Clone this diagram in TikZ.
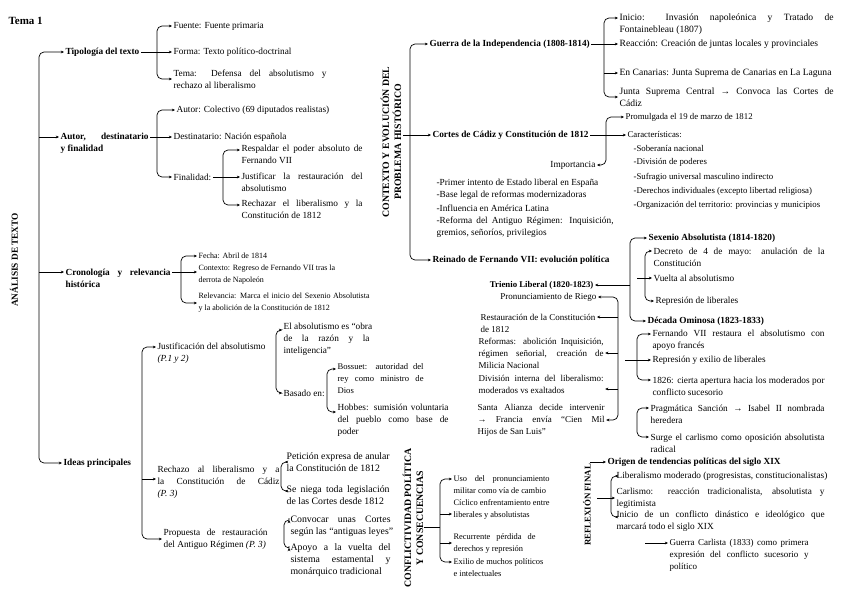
\documentclass[tikz,border=0pt]{standalone}
\usepackage{fontspec}
\setmainfont{Liberation Serif}
\usetikzlibrary{arrows.meta,calc}
\newcommand\fz[1]{\fontsize{#1}{12}\selectfont}
\newcommand\jl[2]{\setbox0\hbox{#2}\ifdim\wd0>#1pt\box0\else\makebox[#1pt][s]{#2}\fi}
\tikzset{
  txt/.style={inner xsep=1.6pt, inner ysep=0.5pt, outer sep=0pt, align=left, anchor=west, font=\fz{9.3}},
  bld/.style={txt, font=\fz{9.3}\bfseries},
  rot/.style={bld, rotate=90, anchor=center, align=center},
  sA/.style={txt, font=\fz{8.0}},
  sB/.style={txt, font=\fz{8.8}},
  sC/.style={txt, font=\fz{9.0}},
  sD/.style={txt, font=\fz{9.6}},
  sE/.style={txt, font=\fz{8.4}},
  sF/.style={txt, font=\fz{9.8}},
  arr/.style={-{Stealth[length=3.2pt,width=2.8pt]}, line width=0.7pt},
  barr/.style={{Stealth[length=3.2pt,width=2.8pt]}-{Stealth[length=3.2pt,width=2.8pt]}, line width=0.7pt, rounded corners=5pt},
  ln/.style={line width=0.7pt},
}
\begin{document}
\begin{tikzpicture}[x=1pt,y=-1pt]
\useasboundingbox[fill=white] (0,0) rectangle (848,600);

% ---------------- LEFT: ANALISIS DE TEXTO ----------------
\node[bld, font=\fontsize{11}{13}\selectfont\bfseries] (tema1) at (7,21) {Tema 1};
\node[rot, font=\fz{9.3}\bfseries] (analisis) at (14,260) {ANÁLISIS DE TEXTO};

\node[bld] (tipo) at (64,52) {Tipología del texto};
\node[bld] (autor) at (59,143) {\jl{88}{Autor, destinatario}\\y finalidad};
\node[bld] (crono) at (64,278) {\jl{105}{Cronología y relevancia}\\histórica};
\node[bld] (ideas) at (62,463) {Ideas principales};

\draw[barr] (tipo.west) -| (39,250) |- (ideas.west);
\coordinate (autorA) at ([yshift=6pt]autor.west);
\coordinate (cronoB) at ([yshift=6pt]crono.west);
\draw[arr] (autorA -| 39,0) -- (autorA);
\draw[arr] (cronoB -| 39,0) -- (cronoB);

% Tipologia
\node[txt] (fuente) at (172,26) {Fuente: Fuente primaria};
\node[txt] (forma) at (172,52) {Forma: Texto político-doctrinal};
\node[txt] (tema) at (172,79) {\jl{153}{Tema: Defensa del absolutismo y}\\rechazo al liberalismo};
\draw[arr] (tipo.east) -- (tipo.east -| forma.west);
\draw[barr] (fuente.west) -| (157,52) |- (tema.west);

% Autor
\node[txt] (autorc) at (175,110) {Autor: Colectivo (69 diputados realistas)};
\node[txt] (dest) at (172,137) {Destinatario: Nación española};
\node[txt] (fin) at (172,177) {Finalidad:};
\draw[arr] (autor.east |- dest.west) -- (dest.west);
\draw[barr] (autorc.west) -| (157,140) |- (fin.west);

\node[txt] (resp) at (240,154) {\jl{121}{Respaldar el poder absoluto de}\\Fernando VII};
\node[txt] (just) at (240,182) {\jl{121}{Justificar la restauración del}\\absolutismo};
\node[txt] (rech) at (240,209) {\jl{121}{Rechazar el liberalismo y la}\\Constitución de 1812};
\draw[arr] (fin.east) -- (fin.east -| just.west);
\draw[barr] ([yshift=4pt]resp.west) -| (223,180) |- ([yshift=4pt]rech.west);

% Cronologia
\node[sA] (fecha) at (197,256) {Fecha: Abril de 1814};
\node[sA] (contexto) at (197,275) {\jl{133}{Contexto: Regreso de Fernando VII tras la}\\derrota de Napoleón};
\node[sA] (relev) at (197,303) {\jl{171}{Relevancia: Marca el inicio del Sexenio Absolutista}\\y la abolición de la Constitución de 1812};
\coordinate (cronoA) at ([yshift=6pt]crono.east);
\draw[arr] (cronoA) -- (cronoA -| contexto.west);
\draw[barr] (fecha.west) -| (181,280) |- (relev.west);

% Ideas principales
\node[txt] (justif) at (156,353) {Justificación del absolutismo\\\textit{(P.1 y 2)}};
\node[txt] (rechazo) at (156,482) {\jl{122}{Rechazo al liberalismo y a}\\\jl{122}{la Constitución de Cádiz}\\\textit{(P. 3)}};
\node[txt] (prop) at (162,539) {\jl{104}{Propuesta de restauración}\\del Antiguo Régimen \textit{(P. 3)}};
\draw[barr] ([yshift=6pt]justif.west) -| (142,450) |- (prop.west);
\draw[arr] ([yshift=3pt]rechazo.west -| 142,0) -- ([yshift=3pt]rechazo.west);

\node[txt] (elabs) at (282,339) {\jl{86}{El absolutismo es “obra}\\\jl{86}{de la razón y la}\\inteligencia”};
\node[txt] (basado) at (282,393) {Basado en:};
\draw[barr] ([yshift=9pt]elabs.west) -| (276,360) |- (basado.west);

\node[txt, font=\fz{8.6}] (bossuet) at (336,379) {\jl{86}{Bossuet: autoridad del}\\\jl{86}{rey como ministro de}\\Dios};
\node[txt] (hobbes) at (336,420) {\jl{111}{Hobbes: sumisión voluntaria}\\\jl{111}{del pueblo como base de}\\poder};
\draw[barr] ([yshift=10pt]bossuet.west) -| (327,395) |- ([yshift=8pt]hobbes.west);

\node[sF] (peticion) at (285,462) {\jl{103}{Petición expresa de anular}\\la Constitución de 1812};
\node[sF] (seniega) at (285,495) {\jl{103}{Se niega toda legislación}\\de las Cortes desde 1812};
\draw[barr] (peticion.west) -| (281,478) |- ([yshift=4pt]seniega.west);

\node[sF] (convocar) at (289,526) {\jl{100}{Convocar unas Cortes}\\según las “antiguas leyes”};
\node[sF] (apoyo) at (289,560) {\jl{100}{Apoyo a la vuelta del}\\\jl{100}{sistema estamental y}\\monárquico tradicional};
\draw[barr] ([yshift=6pt]convocar.west) -| (284,535) |- ([yshift=12pt]apoyo.west);

% ---------------- MIDDLE: CONTEXTO ----------------
\node[rot, font=\fz{9.8}\bfseries] (ctx) at (391,142) {CONTEXTO Y EVOLUCIÓN DEL\\PROBLEMA HISTÓRICO};
\node[bld] (guerra) at (428,44) {Guerra de la Independencia (1808-1814)};
\node[bld] (cortes) at (431,135) {Cortes de Cádiz y Constitución de 1812};
\node[bld] (reinado) at (431,260) {Reinado de Fernando VII: evolución política};
\draw[barr] (guerra.west) -| (410,150) |- (reinado.west);
\draw[arr] (cortes.west -| 403,0) -- (cortes.west);

% Guerra
\node[sD] (inicio) at (618,24) {\jl{214}{Inicio: Invasión napoleónica y Tratado de}\\Fontainebleau (1807)};
\node[sD] (reaccion) at (618,44) {Reacción: Creación de juntas locales y provinciales};
\node[sD] (canarias) at (618,73) {En Canarias: Junta Suprema de Canarias en La Laguna};
\node[sD] (junta) at (618,97) {\jl{214}{Junta Suprema Central → Convoca las Cortes de}\\Cádiz};
\draw[arr] (guerra.east) -- (guerra.east -| reaccion.west);
\draw[barr] ([yshift=6pt]inicio.west) -| (604,60) |- (junta.west);
\draw[arr] (canarias.west -| 604,0) -- (canarias.west);

% Cortes
\node[sB] (promul) at (624,117) {Promulgada el 19 de marzo de 1812};
\node[sB] (caract) at (626,134) {Características:};
\node[sB] (sob) at (632,148) {-Soberanía nacional};
\node[sB] (divi) at (632,162) {-División de poderes};
\node[sB] (sufr) at (632,177) {-Sufragio universal masculino indirecto};
\node[sB] (dere) at (632,191) {-Derechos individuales (excepto libertad religiosa)};
\node[sB] (orga) at (632,205) {-Organización del territorio: provincias y municipios};
\node[txt, anchor=east] (importancia) at (597,165) {Importancia};
\draw[arr] (cortes.east) -- (cortes.east -| caract.west);
\draw[barr] (promul.west) -| (606,150) |- (importancia.east);

\node[txt] (prim) at (435,183) {-Primer intento de Estado liberal en España};
\node[txt] (base) at (435,195) {-Base legal de reformas modernizadoras};
\node[txt] (infl) at (435,208) {-Influencia en América Latina};
\node[txt] (reforma) at (435,227) {\jl{177}{-Reforma del Antiguo Régimen: Inquisición,}\\gremios, señoríos, privilegios};

% Reinado
\node[bld] (sexenio) at (647,238) {Sexenio Absolutista (1814-1820)};
\node[bld] (decada) at (646,321) {Década Ominosa (1823-1833)};
\node[bld, font=\fz{8.8}\bfseries, anchor=east] (trienio) at (595,285) {Trienio Liberal (1820-1823)};
\draw[barr] (sexenio.west) -| (630,280) |- (decada.west);
\draw[arr] (trienio.east -| 630,0) -- (trienio.east);

\node[txt] (decreto) at (652,257) {\jl{171}{Decreto de 4 de mayo: anulación de la}\\Constitución};
\node[txt] (vuelta) at (652,278) {Vuelta al absolutismo};
\node[txt] (repres) at (654,301) {Represión de liberales};
\draw[barr] ([yshift=6pt]decreto.west) -| (645,280) |- (repres.west);
\draw[arr] (vuelta.west -| 637,0) -- (vuelta.west);

\node[txt] (fern) at (651,340) {\jl{172}{Fernando VII restaura el absolutismo con}\\apoyo francés};
\node[txt] (repexil) at (651,360) {Represión y exilio de liberales};
\node[txt] (c1826) at (651,386) {\jl{172}{1826: cierta apertura hacia los moderados por}\\conflicto sucesorio};
\draw[barr] ([yshift=6pt]fern.west) -| (637,360) |- ([yshift=6pt]c1826.west);
\draw[arr] (repexil.west -| 625,0) -- (repexil.west);

\node[txt] (prag) at (649,414) {\jl{174}{Pragmática Sanción → Isabel II nombrada}\\heredera};
\node[txt] (surge) at (649,443) {\jl{174}{Surge el carlismo como oposición absolutista}\\radical};
\draw[barr] ([yshift=6pt]prag.west) -| (637,425) |- ([yshift=6pt]surge.west);

% Trienio
\node[sC, anchor=east] (riego) at (598,297) {Pronunciamiento de Riego};
\node[sC] (restaur) at (479,323) {Restauración de la Constitución\\de 1812};
\node[sC] (reformas) at (477,353) {\jl{125}{Reformas: abolición Inquisición,}\\\jl{125}{régimen señorial, creación de}\\Milicia Nacional};
\node[sC] (division) at (477,384) {\jl{125}{División interna del liberalismo:}\\moderados vs exaltados};
\node[sC] (santa) at (476,420) {\jl{127}{Santa Alianza decide intervenir}\\\jl{127}{→ Francia envía “Cien Mil}\\Hijos de San Luis”};
\draw[barr] (riego.east) -| (618,360) |- (santa.east);
\draw[arr] ([yshift=6pt]restaur.east -| 618,0) -- ([yshift=6pt]restaur.east);
\draw[arr] (reformas.east -| 618,0) -- (reformas.east);
\draw[arr] ([yshift=-5pt]division.east -| 618,0) -- ([yshift=-5pt]division.east);

% ---------------- CONFLICTIVIDAD ----------------
\node[rot, font=\fz{9.8}\bfseries] (conf) at (413,518) {CONFLICTIVIDAD POLÍTICA\\Y CONSECUENCIAS};
\node[sE] (uso) at (452,485) {\jl{96}{Uso del pronunciamiento}\\militar como vía de cambio};
\node[sE] (ciclico) at (452,509) {\jl{96}{Cíclico enfrentamiento entre}\\liberales y absolutistas};
\node[sE] (recur) at (452,543) {\jl{82}{Recurrente pérdida de}\\derechos y represión};
\node[sE] (exilio) at (452,568) {Exilio de muchos políticos\\e intelectuales};
\draw[barr] ([yshift=6pt]uso.west) -| (440,525) |- ([yshift=6pt]exilio.west);
\draw[arr] ([yshift=-5pt]ciclico.west -| 440,0) -- ([yshift=-5pt]ciclico.west);
\draw[arr] (recur.west -| 440,0) -- (recur.west);
\draw[ln] (conf.south |- 0,527) -- (440,527);

% ---------------- REFLEXION FINAL ----------------
\node[rot, font=\fz{8.8}\bfseries] (refl) at (587,505) {REFLEXIÓN FINAL};
\node[bld] (origen) at (606,462) {Origen de tendencias políticas del siglo XIX};
\coordinate (origA) at (590,462);
\draw[arr] (origA) -- (origen.west);
\node[txt] (liberal) at (615,476) {Liberalismo moderado (progresistas, constitucionalistas)};
\node[txt] (carlismo) at (615,498) {\jl{208}{Carlismo: reacción tradicionalista, absolutista y}\\legitimista};
\node[txt] (inicioc) at (615,521) {\jl{208}{Inicio de un conflicto dinástico e ideológico que}\\marcará todo el siglo XIX};
\draw[barr] (liberal.west) -| (611,497) |- ([yshift=4pt]inicioc.west);
\draw[arr] (carlismo.west -| 597,0) -- (carlismo.west);
\node[sC] (guerrac) at (668,555) {\jl{139}{Guerra Carlista (1833) como primera}\\\jl{139}{expresión del conflicto sucesorio y}\\político};
\coordinate (gcA) at (645,543);
\draw[arr] (gcA) -- ([yshift=12pt]guerrac.west);

\end{tikzpicture}
\end{document}
